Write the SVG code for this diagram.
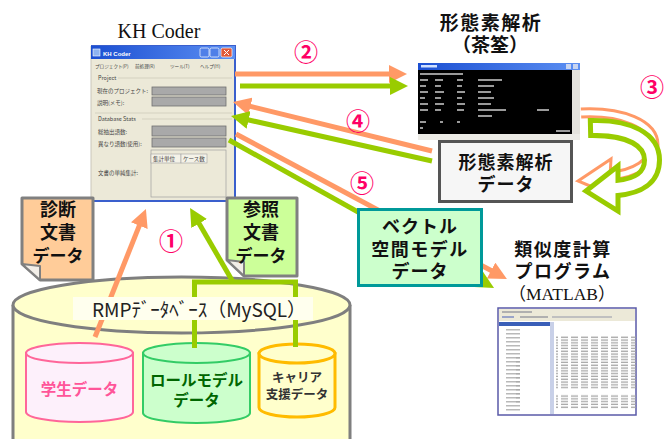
<svg xmlns="http://www.w3.org/2000/svg" width="670" height="439" viewBox="0 0 670 439">
<defs>
<style>
.ttl{font-family:"Noto Sans CJK JP","Noto Sans",sans-serif;font-weight:bold;fill:#111;text-anchor:middle}
.num{font-family:"Noto Sans CJK JP","Noto Sans",sans-serif;font-weight:bold;font-size:24px;fill:#ff0066;text-anchor:middle}
.ui{font-family:"Noto Sans CJK JP","Noto Sans",sans-serif;font-size:5.5px;fill:#444}
.menu{font-family:"Noto Sans CJK JP","Noto Sans",sans-serif;font-size:4.6px;fill:#444}
.or{stroke:#ff9966;stroke-width:5;fill:none}
.gr{stroke:#99cc00;stroke-width:5;fill:none}
.field{fill:#a9a9a9;stroke:#707070;stroke-width:0.8}
.doc{stroke:#808080;stroke-width:3;stroke-linejoin:round}
.fold{fill:#f2eee8;stroke:#808080;stroke-width:2;stroke-linejoin:round}
.tx{fill:#9a9a9a}
</style>
<marker id="ho" viewBox="0 0 10 10" refX="5" refY="5" markerWidth="3.6" markerHeight="3.6" orient="auto"><path d="M0,0 L10,5 L0,10 z" fill="#ff9966"/></marker>
<marker id="hg" viewBox="0 0 10 10" refX="5" refY="5" markerWidth="3.6" markerHeight="3.6" orient="auto"><path d="M0,0 L10,5 L0,10 z" fill="#99cc00"/></marker>
<pattern id="nums" width="10" height="2.8" patternUnits="userSpaceOnUse"><rect x="1" y="0.6" width="7" height="1.2" fill="#a0a0a0"/></pattern>
<pattern id="tree" width="50" height="4" patternUnits="userSpaceOnUse"><rect x="6" y="1.2" width="14" height="1.2" fill="#a8a8a8"/></pattern>
<linearGradient id="tb" x1="0" y1="0" x2="1" y2="0"><stop offset="0" stop-color="#1b4fd2"/><stop offset="1" stop-color="#5c8ff2"/></linearGradient>
</defs>

<rect width="670" height="439" fill="#ffffff"/>

<!-- database cylinder -->
<g id="db-rmp">
<path d="M13,305 V450 H350 V305" fill="#ffffcc" stroke="#7f7f7f" stroke-width="3"/>
<ellipse cx="181.5" cy="305" rx="168.5" ry="28" fill="#ffffcc" stroke="#7f7f7f" stroke-width="3"/>
</g>

<g id="db-student">
<path d="M26,353 V412 A53.5,10 0 0 0 133,412 V353 Z" fill="#fdf0fb" stroke="#ff6699" stroke-width="2"/>
<ellipse cx="79.5" cy="353" rx="53.5" ry="10" fill="#fdf0fb" stroke="#ff6699" stroke-width="2"/>
<text class="ttl" x="79.5" y="395" font-size="15.5" style="fill:#ff5599">学生データ</text>
</g>

<g id="db-rolemodel">
<path d="M143,353 V413 A53.5,10 0 0 0 250,413 V353 Z" fill="#ccffcc" stroke="#33cc66" stroke-width="2"/>
<ellipse cx="196.5" cy="353" rx="53.5" ry="10" fill="#ccffcc" stroke="#33cc66" stroke-width="2"/>
<text class="ttl" x="196.5" y="386" font-size="15.5" style="fill:#006600">ロールモデル</text>
<text class="ttl" x="196.5" y="406" font-size="15.5" style="fill:#006600">データ</text>
</g>

<g id="db-career">
<path d="M259,353.5 V407.5 A38,9.5 0 0 0 335,407.5 V353.5 Z" fill="#ffffcc" stroke="#ffbb00" stroke-width="3"/>
<ellipse cx="297" cy="353.5" rx="38" ry="9.5" fill="#ffffcc" stroke="#ffbb00" stroke-width="3"/>
<text class="ttl" x="297" y="382" font-size="12.5" style="fill:#333">キャリア</text>
<text class="ttl" x="297" y="399" font-size="12.5" style="fill:#333">支援データ</text>
</g>

<!-- KH Coder window -->
<g id="khcoder">
<text x="159" y="38" font-family="Liberation Serif, serif" font-size="20" text-anchor="middle" fill="#111">KH Coder</text>
<rect x="91" y="46" width="144" height="155" fill="#ece9d8"/>
<path d="M91,46 H235 V201 H91" fill="none" stroke="#3a5fcd" stroke-width="2"/>
<path d="M91,46 V201" stroke="#c9c6ba" stroke-width="1"/>
<rect x="91" y="46" width="144" height="13" fill="url(#tb)"/>
<rect x="93" y="49" width="7" height="7" fill="#8fb4f0" stroke="#ffffff" stroke-width="0.6"/>
<text x="103" y="56" font-family="Liberation Sans, sans-serif" font-size="6" font-weight="bold" fill="#ffffff">KH Coder</text>
<rect x="200" y="48" width="9" height="9" rx="1.5" fill="#4f7fe8" stroke="#ffffff" stroke-width="0.7"/>
<rect x="210" y="48" width="9" height="9" rx="1.5" fill="#4f7fe8" stroke="#ffffff" stroke-width="0.7"/>
<rect x="221" y="48" width="11" height="9" rx="1.5" fill="#e0583a" stroke="#ffffff" stroke-width="0.7"/>
<path d="M224,50 L229,55 M229,50 L224,55" stroke="#ffffff" stroke-width="1"/>
<text class="menu" x="95" y="68">プロジェクト(P)</text>
<text class="menu" x="135" y="68">前処理(R)</text>
<text class="menu" x="170" y="68">ツール(T)</text>
<text class="menu" x="200" y="68">ヘルプ(H)</text>
<text class="ui" x="98" y="80">Project</text>
<path d="M118,78 H232 M95,113 H232" stroke="#c8c4b4" stroke-width="0.6"/>
<text class="ui" x="97" y="93">現在のプロジェクト:</text>
<rect class="field" x="152" y="87" width="74" height="8"/>
<text class="ui" x="97" y="105">説明(メモ):</text>
<rect class="field" x="152" y="97" width="74" height="9"/>
<text class="ui" x="98" y="121">Database Stats</text>
<path d="M142,119 H232" stroke="#c8c4b4" stroke-width="0.6"/>
<text class="ui" x="98" y="134">総抽出語数:</text>
<rect class="field" x="152" y="126" width="74" height="10"/>
<text class="ui" x="98" y="146">異なり語数(使用):</text>
<rect class="field" x="152" y="138" width="74" height="9"/>
<rect x="151" y="150" width="75" height="47" fill="#ece9d8" stroke="#a0a0a0" stroke-width="0.7"/>
<rect x="151" y="154" width="30" height="9" fill="#f4f2e8" stroke="#a0a0a0" stroke-width="0.6"/>
<rect x="181" y="154" width="26" height="9" fill="#f4f2e8" stroke="#a0a0a0" stroke-width="0.6"/>
<text class="ui" x="153" y="160.5">集計単位</text>
<text class="ui" x="183" y="160.5">ケース数</text>
<text class="ui" x="98" y="175">文書の単純集計:</text>
</g>

<!-- morphological analyser console -->
<g id="chasen">
<text class="ttl" x="491" y="30" font-size="19" letter-spacing="1.5">形態素解析</text>
<text class="ttl" x="490" y="52" font-size="19">（茶筌）</text>
<rect x="418" y="63" width="162" height="77" fill="#d4d0c8"/>
<rect x="418" y="63" width="162" height="7" fill="url(#tb)"/>
<rect x="421" y="65" width="16" height="2.5" fill="#cfe0ff"/>
<rect x="566" y="64" width="5" height="5" fill="#c8d4f0"/>
<rect x="573" y="64" width="5" height="5" fill="#c8d4f0"/>
<rect x="418" y="70" width="154" height="64" fill="#000000"/>
<rect x="572" y="70" width="8" height="64" fill="#e4e2dc"/>
<rect x="418" y="134" width="162" height="6" fill="#ecebe6"/>
<g class="tx">
<rect x="420" y="73" width="43" height="2"/>
<rect x="420" y="79" width="8" height="2"/><rect x="435" y="79" width="8" height="2"/><rect x="457" y="79" width="6" height="2"/><rect x="478" y="79" width="24" height="2"/>
<rect x="420" y="85" width="6" height="2"/><rect x="435" y="85" width="6" height="2"/><rect x="457" y="85" width="5" height="2"/><rect x="478" y="85" width="16" height="2"/>
<rect x="420" y="91" width="8" height="2"/><rect x="435" y="91" width="9" height="2"/><rect x="457" y="91" width="8" height="2"/><rect x="478" y="91" width="13" height="2"/>
<rect x="420" y="97" width="5" height="2"/><rect x="435" y="97" width="6" height="2"/><rect x="457" y="97" width="5" height="2"/><rect x="478" y="97" width="16" height="2"/>
<rect x="420" y="103" width="8" height="2"/><rect x="435" y="103" width="9" height="2"/><rect x="457" y="103" width="8" height="2"/><rect x="478" y="103" width="13" height="2"/>
<rect x="420" y="109" width="8" height="2"/><rect x="435" y="109" width="6" height="2"/><rect x="457" y="109" width="7" height="2"/><rect x="478" y="109" width="28" height="2"/><rect x="537" y="109" width="12" height="2"/>
<rect x="478" y="115" width="14" height="2"/>
<rect x="420" y="121" width="6" height="2"/><rect x="440" y="121" width="3" height="2"/><rect x="457" y="121" width="3" height="2"/>
<rect x="420" y="127" width="3" height="2"/>
<rect x="556" y="130" width="14" height="2"/>
</g>
</g>

<!-- similarity program screenshot -->
<g id="matlab">
<text class="ttl" x="563" y="256" font-size="18" letter-spacing="1.5">類似度計算</text>
<text class="ttl" x="563" y="278" font-size="18" letter-spacing="1.5">プログラム</text>
<text x="562" y="300" font-family="Liberation Serif, 'Noto Sans CJK JP', serif" font-size="17.5" text-anchor="middle" fill="#111">（MATLAB）</text>
<rect x="498" y="308" width="138" height="107" fill="#ffffff" stroke="#5a5aa8" stroke-width="1.5"/>
<rect x="499" y="309" width="136" height="12" fill="#ece9d8"/>
<rect x="502" y="311" width="30" height="2" fill="#b0b0b0"/>
<rect x="502" y="316" width="12" height="2" fill="#9aa4c8"/>
<rect x="520" y="316" width="28" height="2" fill="#b0b0b0"/>
<rect x="552" y="316" width="60" height="2" fill="#c0c0c0"/>
<rect x="499" y="322" width="52" height="4" fill="#3a5fb8"/>
<rect x="499" y="326" width="52" height="88" fill="#ffffff"/>
<rect x="500" y="328" width="50" height="84" fill="url(#tree)"/>
<rect x="516" y="356" width="34" height="48" fill="url(#tree)"/>
<rect x="550" y="322" width="4" height="92" fill="#c8d0e8"/>
<rect x="556" y="336" width="80" height="53" fill="url(#nums)"/>
<rect x="556" y="394" width="80" height="15" fill="url(#nums)"/>
</g>

<!-- connectors -->
<g id="connectors" stroke-linecap="butt">
<!-- ① -->
<path class="gr" d="M194.5,348 V282 H295.5 V347"/>
<path class="or" d="M95,337 L142.6,217.3" marker-end="url(#ho)"/>
<path class="gr" d="M233,282 L194.6,215.7" marker-end="url(#hg)"/>
<!-- ② -->
<path class="or" d="M235,74 H398" marker-end="url(#ho)"/>
<path class="gr" d="M240,86 H399" marker-end="url(#hg)"/>
<!-- ④ -->
<path class="or" d="M432,151 L241.7,104.2" marker-end="url(#ho)"/>
<path class="gr" d="M432,161 L239.8,118" marker-end="url(#hg)"/>
<!-- ⑤ -->
<path class="or" d="M236,134 L499,274.8" marker-end="url(#ho)"/>
<path class="gr" d="M229,140 L486.2,283.6" marker-end="url(#hg)"/>
<!-- ③ hollow curved arrows -->
<path d="M581,113 C622,111 654,124 654,145 C654,163 634,174 610,176" fill="none" stroke="#ff9966" stroke-width="11"/>
<polygon points="578,181 611,159 609,194" fill="#ffffff" stroke="#ff9966" stroke-width="3" stroke-linejoin="miter"/>
<path d="M581,113 C622,111 654,124 654,145 C654,163 634,174 610,176 L603,177" fill="none" stroke="#ffffff" stroke-width="5"/>
<path d="M588,128 C630,127 652,140 652,160 C652,178 638,186 617,188" fill="none" stroke="#99cc00" stroke-width="20"/>
<polygon points="586,191 618,166 618,211" fill="#ffffff" stroke="#99cc00" stroke-width="5" stroke-linejoin="miter"/>
<path d="M593,128 C630,127 652,140 652,160 C652,178 638,186 617,188 L611,188.5" fill="none" stroke="#ffffff" stroke-width="10"/>
</g>

<g id="db-label">
<rect x="73" y="297" width="240" height="23" fill="#ffffee"/>
<text x="92" y="317" font-family="Noto Sans CJK JP, Noto Sans, sans-serif" font-size="19" fill="#222" textLength="214" lengthAdjust="spacing">RMPﾃﾞｰﾀﾍﾞｰｽ（MySQL）</text>
</g>

<g id="doc-diagnosis">
<path class="doc" d="M22,198 H93 V280 H40 L22,264 Z" fill="#ffcc99"/>
<path class="fold" d="M22,264 L40,266 L40,280 Z"/>
<text class="ttl" x="58" y="216" font-size="18">診断</text>
<text class="ttl" x="58" y="239" font-size="18">文書</text>
<text class="ttl" x="58" y="262" font-size="17">データ</text>
</g>

<g id="doc-reference">
<path class="doc" d="M227,198 H297 V276 H244 L227,260 Z" fill="#ccff99"/>
<path class="fold" d="M227,260 L244,262 L244,276 Z"/>
<text class="ttl" x="261" y="216" font-size="18">参照</text>
<text class="ttl" x="261" y="239" font-size="18">文書</text>
<text class="ttl" x="261" y="262" font-size="17">データ</text>
</g>

<g id="morph-data">
<rect x="439.5" y="141.5" width="132" height="60" fill="#f6f6f6" stroke="#555555" stroke-width="3"/>
<text class="ttl" x="506" y="169" font-size="18" letter-spacing="1">形態素解析</text>
<text class="ttl" x="506" y="191" font-size="18" letter-spacing="1">データ</text>
</g>

<g id="vsm-data">
<rect x="358.5" y="209.5" width="123" height="76" fill="#ccffcc" stroke="#009999" stroke-width="3"/>
<text class="ttl" x="420" y="233" font-size="18" letter-spacing="1">ベクトル</text>
<text class="ttl" x="420" y="256" font-size="18" letter-spacing="1.5">空間モデル</text>
<text class="ttl" x="420" y="278" font-size="18" letter-spacing="1">データ</text>
</g>

<g id="step-numbers">
<text class="num" x="171" y="250">①</text>
<text class="num" x="306" y="61">②</text>
<text class="num" x="652" y="96">③</text>
<text class="num" x="358" y="130">④</text>
<text class="num" x="362" y="192">⑤</text>
</g>
</svg>
